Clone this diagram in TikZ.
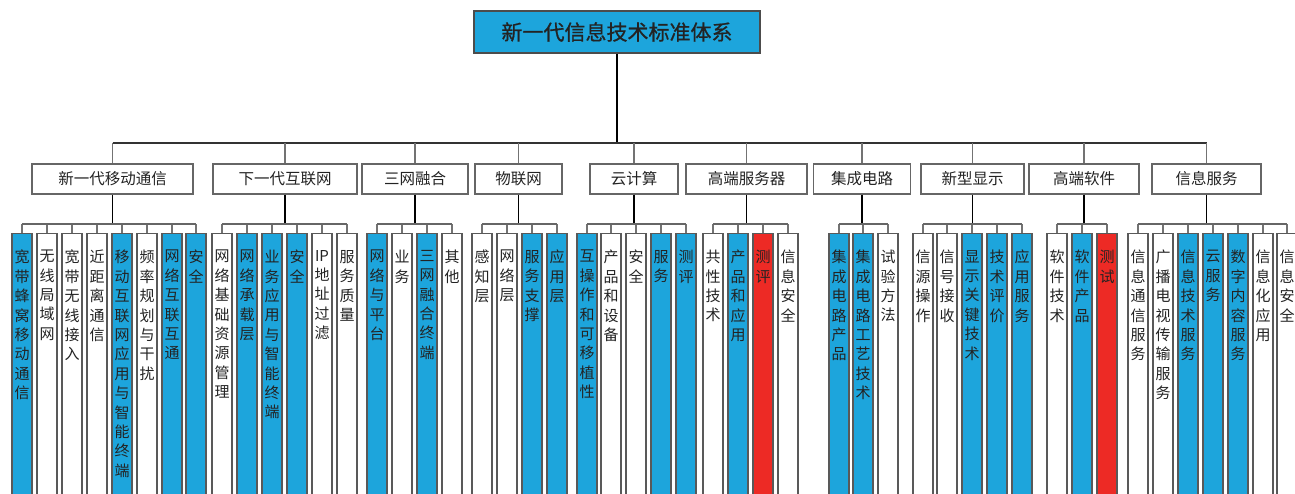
\documentclass[tikz,border=0pt]{standalone}
\usepackage{fontspec}
\newfontfamily\cjk{Noto Sans CJK SC}
\newfontfamily\cjkb[FakeBold=0.8]{Noto Sans CJK SC}
\definecolor{bl}{RGB}{29,165,220}
\definecolor{rd}{RGB}{237,42,37}
\definecolor{tx}{RGB}{35,35,35}
\newcommand\mkchild[4]{%
  \node[childbox,#3] (#1) at ({#2+10},233) {};
  \node[vtext] (#1t) at ({#2+10},250) {#4};
  \draw[twig] (#1.north) -- (#1.north |- suby);
}
\begin{document}
\begin{tikzpicture}[x=1pt,y=-1pt,
  titlebox/.style={draw=black!70, line width=1.2pt, fill=bl, minimum width=286pt, minimum height=42pt, inner sep=0pt, font=\cjkb\fontsize{21}{21}\selectfont, text=tx},
  catbox/.style={draw=black!60, line width=1.2pt, fill=white, minimum height=30pt, inner sep=0pt, font=\cjk\fontsize{15.5}{15.5}\selectfont, text=tx},
  childbox/.style={draw=black!65, line width=1.2pt, minimum width=20pt, minimum height=290pt, inner sep=0pt, anchor=north},
  wb/.style={fill=white}, bb/.style={fill=bl}, rb/.style={fill=rd},
  vtext/.style={anchor=north, align=center, inner sep=0pt, font=\cjk\fontsize{15}{19.4}\selectfont, text=tx},
  trunk/.style={draw=black, line width=1.3pt},
  bus/.style={draw=black!80, line width=1.3pt},
  sbus/.style={draw=black!60, line width=1.3pt},
  twig/.style={draw=black!55, line width=1.1pt}]
\clip (0,0) rectangle (1295,494);
\fill[white] (0,0) rectangle (1295,494);
\coordinate (busy) at (617,143);
\coordinate (suby) at (617,224);

\node[titlebox] (title) at (617,32) {新一代信息技术标准体系};

\node[catbox, minimum width=161pt] (c1) at (112.5,179) {新一代移动通信};
\node[catbox, minimum width=144pt] (c2) at (285,179) {下一代互联网};
\node[catbox, minimum width=106pt] (c3) at (415,179) {三网融合};
\node[catbox, minimum width=87pt] (c4) at (518.5,179) {物联网};
\node[catbox, minimum width=88pt] (c5) at (634,179) {云计算};
\node[catbox, minimum width=121pt] (c6) at (746.5,179) {高端服务器};
\node[catbox, minimum width=97pt] (c7) at (862,179) {集成电路};
\node[catbox, minimum width=103pt] (c8) at (972.5,179) {新型显示};
\node[catbox, minimum width=110pt] (c9) at (1084,179) {高端软件};
\node[catbox, minimum width=109pt] (c10) at (1206.5,179) {信息服务};

\draw[trunk] (title.south) -- (busy);
\draw[bus] (c1.north |- busy) -- (c10.north |- busy);
\foreach \c in {c1,c2,c3,c4,c5,c6,c7,c8,c9,c10}{
  \draw[twig] (\c.north |- busy) -- (\c.north);
  \draw[trunk] (\c.south) -- (\c.south |- suby);
}

% group 1
\mkchild{a1}{12}{bb}{宽\\带\\蜂\\窝\\移\\动\\通\\信}
\mkchild{a2}{37}{wb}{无\\线\\局\\域\\网}
\mkchild{a3}{62}{wb}{宽\\带\\无\\线\\接\\入}
\mkchild{a4}{87}{wb}{近\\距\\离\\通\\信}
\mkchild{a5}{112}{bb}{移\\动\\互\\联\\网\\应\\用\\与\\智\\能\\终\\端}
\mkchild{a6}{137}{wb}{频\\率\\规\\划\\与\\干\\扰}
\mkchild{a7}{162}{bb}{网\\络\\互\\联\\互\\通}
\mkchild{a8}{186}{bb}{安\\全}
\draw[sbus] (a1.north |- suby) -- (a8.north |- suby);

% group 2
\mkchild{b1}{212}{wb}{网\\络\\基\\础\\资\\源\\管\\理}
\mkchild{b2}{237}{bb}{网\\络\\承\\载\\层}
\mkchild{b3}{262}{bb}{业\\务\\应\\用\\与\\智\\能\\终\\端}
\mkchild{b4}{287}{bb}{安\\全}
\mkchild{b5}{312}{wb}{IP\\地\\址\\过\\滤}
\mkchild{b6}{337}{wb}{服\\务\\质\\量}
\draw[sbus] (b1.north |- suby) -- (b6.north |- suby);

% group 3
\mkchild{d1}{367}{bb}{网\\络\\与\\平\\台}
\mkchild{d2}{392}{wb}{业\\务}
\mkchild{d3}{417}{bb}{三\\网\\融\\合\\终\\端}
\mkchild{d4}{442}{wb}{其\\他}
\draw[sbus] (d1.north |- suby) -- (d4.north |- suby);

% group 4
\mkchild{e1}{472}{wb}{感\\知\\层}
\mkchild{e2}{497}{wb}{网\\络\\层}
\mkchild{e3}{522}{bb}{服\\务\\支\\撑}
\mkchild{e4}{547}{bb}{应\\用\\层}
\draw[sbus] (e1.north |- suby) -- (e4.north |- suby);

% group 5
\mkchild{f1}{577}{bb}{互\\操\\作\\和\\可\\移\\植\\性}
\mkchild{f2}{601}{wb}{产\\品\\和\\设\\备}
\mkchild{f3}{626}{wb}{安\\全}
\mkchild{f4}{651}{bb}{服\\务}
\mkchild{f5}{676}{bb}{测\\评}
\draw[sbus] (f1.north |- suby) -- (f5.north |- suby);

% group 6
\mkchild{g1}{703}{wb}{共\\性\\技\\术}
\mkchild{g2}{728}{bb}{产\\品\\和\\应\\用}
\mkchild{g3}{753}{rb}{测\\评}
\mkchild{g4}{778}{wb}{信\\息\\安\\全}
\draw[sbus] (g1.north |- suby) -- (g4.north |- suby);

% group 7
\mkchild{h1}{829}{bb}{集\\成\\电\\路\\产\\品}
\mkchild{h2}{853}{bb}{集\\成\\电\\路\\工\\艺\\技\\术}
\mkchild{h3}{878}{wb}{试\\验\\方\\法}
\draw[sbus] (h1.north |- suby) -- (h3.north |- suby);

% group 8
\mkchild{i1}{913}{wb}{信\\源\\操\\作}
\mkchild{i2}{937}{wb}{信\\号\\接\\收}
\mkchild{i3}{962}{bb}{显\\示\\关\\键\\技\\术}
\mkchild{i4}{987}{bb}{技\\术\\评\\价}
\mkchild{i5}{1012}{bb}{应\\用\\服\\务}
\draw[sbus] (i1.north |- suby) -- (i5.north |- suby);

% group 9
\mkchild{j1}{1047}{wb}{软\\件\\技\\术}
\mkchild{j2}{1072}{bb}{软\\件\\产\\品}
\mkchild{j3}{1097}{rb}{测\\试}
\draw[sbus] (j1.north |- suby) -- (j3.north |- suby);

% group 10
\mkchild{k1}{1128}{wb}{信\\息\\通\\信\\服\\务}
\mkchild{k2}{1153}{wb}{广\\播\\电\\视\\传\\输\\服\\务}
\mkchild{k3}{1178}{bb}{信\\息\\技\\术\\服\\务}
\mkchild{k4}{1203}{bb}{云\\服\\务}
\mkchild{k5}{1228}{bb}{数\\字\\内\\容\\服\\务}
\mkchild{k6}{1253}{wb}{信\\息\\化\\应\\用}
\mkchild{k7}{1277}{wb}{信\\息\\安\\全}
\draw[sbus] (k1.north |- suby) -- (k7.north |- suby);
\end{tikzpicture}
\end{document}
